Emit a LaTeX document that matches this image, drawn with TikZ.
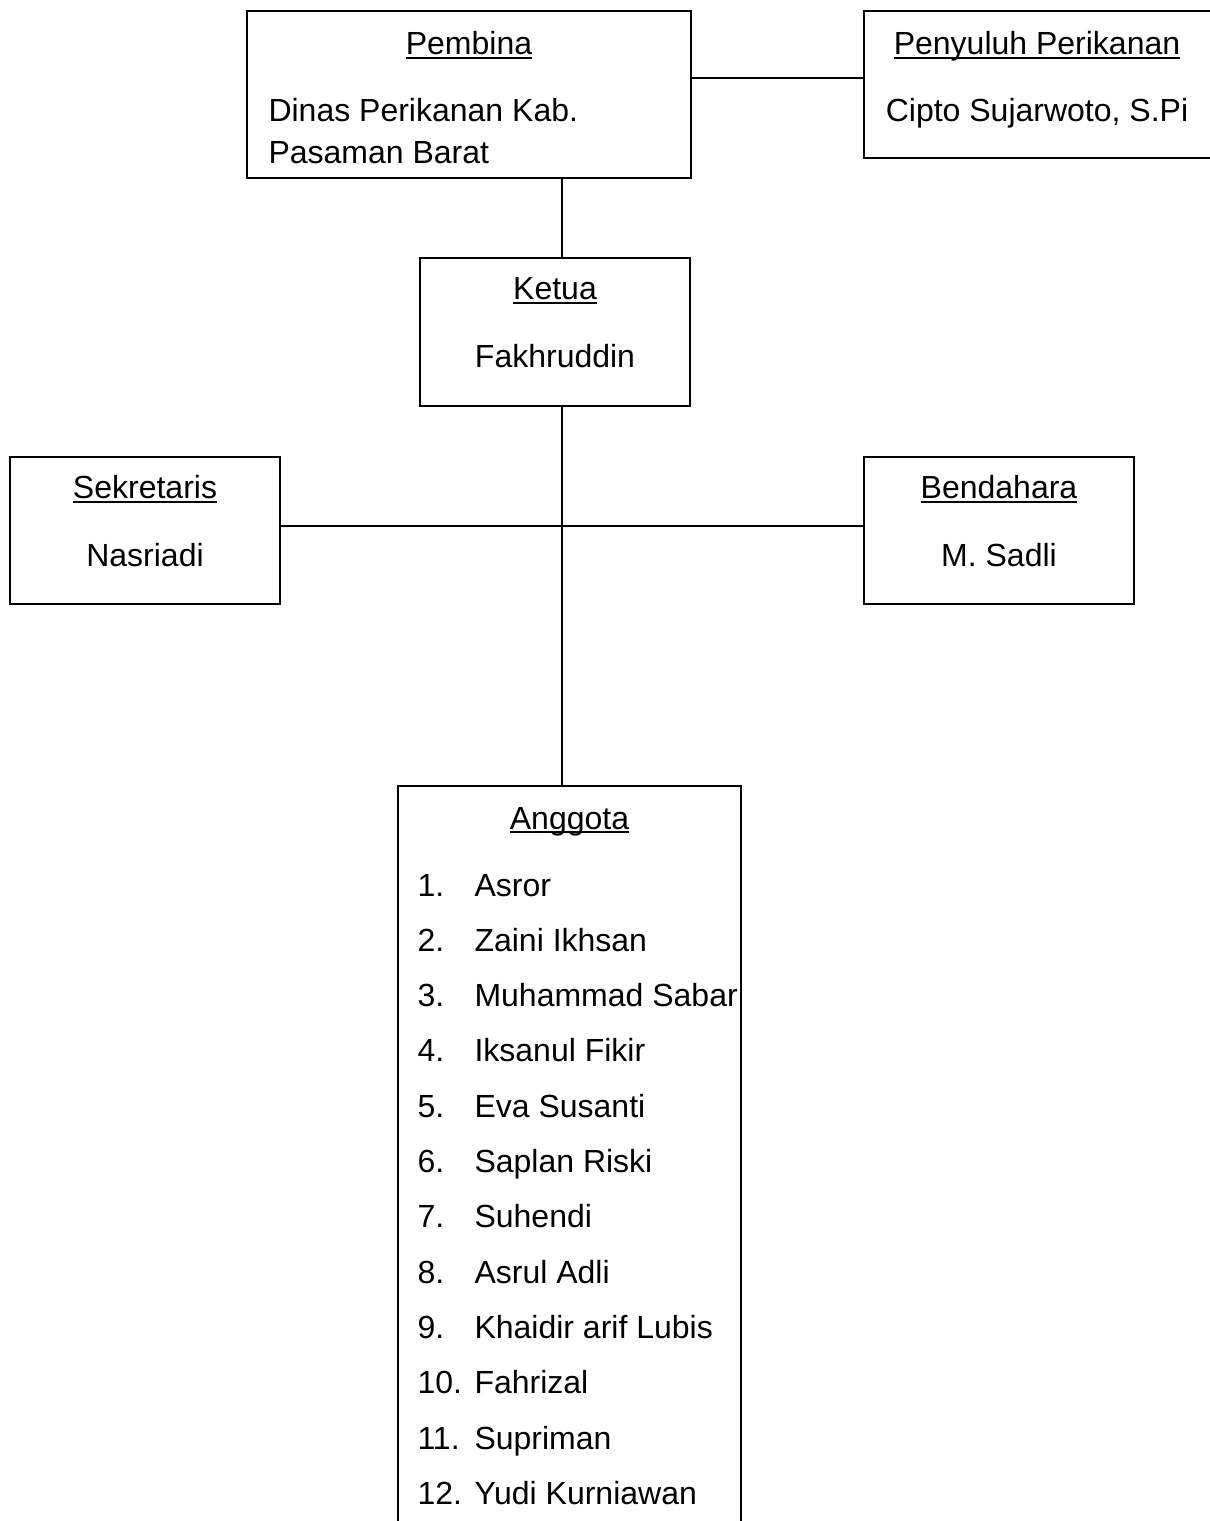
\documentclass[tikz,border=0pt]{standalone}
\usepackage{fontspec}
\setmainfont{Liberation Sans}
\usetikzlibrary{positioning}
\newcommand\ulbox[1]{\setbox0\hbox{#1}\rlap{\vrule height -0.85pt depth 1.6pt width \wd0}\box0}

\begin{document}
\begin{tikzpicture}[x=0.375pt,y=-0.375pt,
  box/.style={draw,line width=0.75pt,inner sep=0pt},
  txt/.style={inner sep=0pt,font=\fontsize{12}{14}\selectfont}]
\useasboundingbox (0,0) rectangle (1210,1521);
\clip (0,0) rectangle (1210,1521);
% boxes
\node[box,minimum width=444*0.375pt,minimum height=167*0.375pt] (pembina) at (469,94.5) {};
\node[box,minimum width=350*0.375pt,minimum height=147*0.375pt] (penyuluh) at (1039,84.5) {};
\node[box,minimum width=270*0.375pt,minimum height=148*0.375pt] (ketua) at (555,332) {};
\node[box,minimum width=270*0.375pt,minimum height=147*0.375pt] (sekretaris) at (145,530.5) {};
\node[box,minimum width=270*0.375pt,minimum height=147*0.375pt] (bendahara) at (999,530.5) {};
\node[box,minimum width=343*0.375pt,minimum height=760*0.375pt] (anggota) at (569.5,1166) {};
\coordinate (spine) at (562,526);
% texts
\node[txt,anchor=base] (pembinaT) at (469,55) {\ulbox{Pembina}};
\node[txt,anchor=base west] (pembinaA) at (268,122) {Dinas Perikanan Kab.};
\node[txt,anchor=base west] (pembinaB) at (268,164) {Pasaman Barat};
\node[txt,anchor=base] (penyuluhT) at (1037,55) {\ulbox{Penyuluh Perikanan}};
\node[txt,anchor=base] (penyuluhN) at (1037,122) {Cipto Sujarwoto, S.Pi};
\node[txt,anchor=base] (ketuaT) at (555,300) {\ulbox{Ketua}};
\node[txt,anchor=base] (ketuaN) at (555,368) {Fakhruddin};
\node[txt,anchor=base] (sekretarisT) at (145,499) {\ulbox{Sekretaris}};
\node[txt,anchor=base] (sekretarisN) at (145,567) {Nasriadi};
\node[txt,anchor=base] (bendaharaT) at (999,499) {\ulbox{Bendahara}};
\node[txt,anchor=base] (bendaharaN) at (999,567) {M. Sadli};
\node[txt,anchor=base] (anggotaT) at (569.5,829) {\ulbox{Anggota}};
\foreach \n/\name in {1/Asror,2/Zaini Ikhsan,3/Muhammad Sabar,4/Iksanul Fikir,
  5/Eva Susanti,6/Saplan Riski,7/Suhendi,8/Asrul Adli,9/Khaidir arif Lubis,
  10/Fahrizal,11/Supriman,12/Yudi Kurniawan}{
  \node[txt,anchor=base west] (no\n) at (417,{896+(\n-1)*55.3}) {\n.};
  \node[txt,anchor=base west] (nm\n) at (474,{896+(\n-1)*55.3}) {\name};
}
% lines
\draw[line width=0.75pt] (pembina.east |- 0,78) -- (penyuluh.west |- 0,78);
\draw[line width=0.75pt] (pembina.south -| spine) -- (ketua.north -| spine);
\draw[line width=0.75pt] (ketua.south -| spine) -- (anggota.north -| spine);
\draw[line width=0.75pt] (sekretaris.east |- spine) -- (bendahara.west |- spine);
\end{tikzpicture}
\end{document}
